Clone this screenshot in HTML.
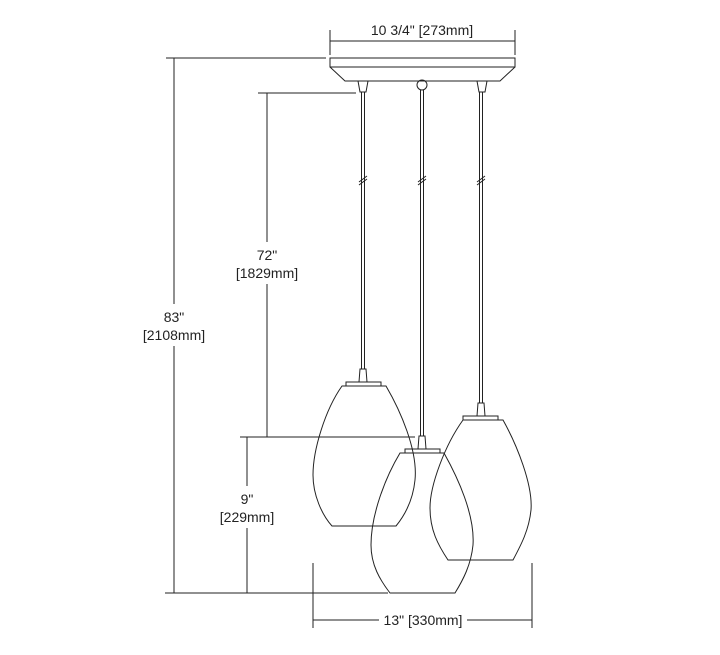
<!DOCTYPE html>
<html><head><style>
html,body{margin:0;padding:0;background:#fff;}
svg{display:block;}
text{font-family:"Liberation Sans",Arial,sans-serif;font-size:14px;fill:#222;}
</style></head><body>
<svg width="720" height="655" viewBox="0 0 720 655" xmlns="http://www.w3.org/2000/svg">
<g stroke="#222" stroke-width="1" fill="none">
<line x1="330" y1="30" x2="330" y2="55"/>
<line x1="515" y1="30" x2="515" y2="55"/>
<line x1="330" y1="41" x2="515" y2="41"/>
<rect x="330" y="58" width="185" height="9"/>
<path d="M330,67 L345,81 L500,81 L515,67"/>
<path d="M358,81 L360,92 L366,92 L368,81"/>
<circle cx="422" cy="85" r="5"/>
<path d="M477,81 L479,92 L485,92 L487,81"/>
<line x1="361.5" y1="92" x2="361.5" y2="369"/><line x1="364.5" y1="92" x2="364.5" y2="369"/>
<line x1="420.5" y1="90" x2="420.5" y2="436"/><line x1="423.5" y1="90" x2="423.5" y2="436"/>
<line x1="479.5" y1="92" x2="479.5" y2="403"/><line x1="482.5" y1="92" x2="482.5" y2="403"/>
<line x1="359" y1="182" x2="367" y2="176"/><line x1="359" y1="185" x2="367" y2="179"/>
<line x1="418" y1="182" x2="426" y2="176"/><line x1="418" y1="185" x2="426" y2="179"/>
<line x1="477" y1="182" x2="485" y2="176"/><line x1="477" y1="185" x2="485" y2="179"/>
<path d="M360,369 L359,382 L367,382 L366,369 Z"/>
<rect x="346" y="382" width="35" height="4"/>
<path d="M342,386 L386,386 C400,410 418,450 415,480 C413,500 405,515 396,526 L332,526 C322,515 313,495 313,475 C313,450 325,410 342,386 Z"/>
<path d="M478,403 L477,416 L485,416 L484,403 Z"/>
<rect x="463" y="416" width="35" height="4"/>
<path d="M463,420 L503,420 C517,445 533,485 531,510 C529,530 521,545 513,560 L448,560 C438,545 430,530 430,508 C430,485 445,445 463,420 Z"/>
<path d="M419,436 L418,449 L426,449 L425,436 Z"/>
<rect x="405" y="449" width="35" height="4"/>
<path d="M400,453 L444,453 C458,478 475,515 473,545 C471,565 463,580 455,593 L390,593 C380,580 371,565 371,545 C371,515 385,478 400,453 Z"/>
<line x1="166" y1="58" x2="326" y2="58"/>
<line x1="174" y1="58" x2="174" y2="304"/>
<line x1="174" y1="346" x2="174" y2="593"/>
<line x1="258" y1="93" x2="356" y2="93"/>
<line x1="267" y1="93" x2="267" y2="242"/>
<line x1="267" y1="284" x2="267" y2="437"/>
<line x1="240" y1="437" x2="415" y2="437"/>
<line x1="247" y1="437" x2="247" y2="486"/>
<line x1="247" y1="528" x2="247" y2="593"/>
<line x1="165" y1="593" x2="388" y2="593"/>
<line x1="313" y1="563" x2="313" y2="628"/>
<line x1="532" y1="563" x2="532" y2="628"/>
<line x1="313" y1="620" x2="379" y2="620"/>
<line x1="467" y1="620" x2="532" y2="620"/>
</g>
<g text-anchor="middle">
<text x="422" y="35">10 3/4" [273mm]</text>
<text x="267" y="260">72"</text>
<text x="267" y="278">[1829mm]</text>
<text x="174" y="322">83"</text>
<text x="174" y="340">[2108mm]</text>
<text x="247" y="504">9"</text>
<text x="247" y="522">[229mm]</text>
<text x="423" y="625">13" [330mm]</text>
</g>
</svg>
</body></html>
